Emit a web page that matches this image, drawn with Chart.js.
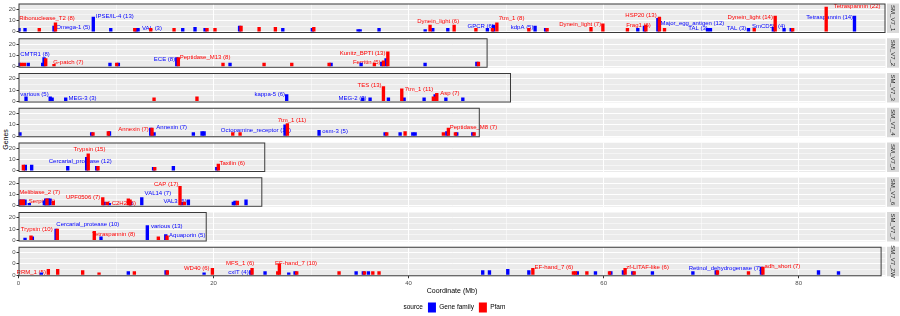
<!DOCTYPE html>
<html><head><meta charset="utf-8">
<script src="https://cdn.jsdelivr.net/npm/chart.js@4.4.0/dist/chart.umd.min.js"></script>
<style>
html,body{margin:0;padding:0;background:#fff;width:900px;height:316px;overflow:hidden;position:relative;font-family:"Liberation Sans",Arial,sans-serif;}
canvas{position:absolute;left:0;}
#ytitle{position:absolute;left:-10px;top:135px;width:30px;height:9px;line-height:9px;text-align:center;font-size:7px;transform:rotate(-90deg);color:#000;}
</style></head><body>
<div id="ytitle">Genes</div>
<script>
// ---------------- data ----------------
const chromosomes = ['SM_V7_1','SM_V7_2','SM_V7_3','SM_V7_4','SM_V7_5','SM_V7_6','SM_V7_7','SM_V7_ZW'];
const chromLengthMb = [88.9, 48.1, 50.5, 47.3, 25.3, 25.0, 19.3, 88.5];
const xMaxMb = 88.9;
const xTickLabels = [0, 20, 40, 60, 80];
const yTickLabels = [0, 10, 20];
const sourceNames = ['Gene family', 'Pfam'];
const legendTitle = 'source';

// Gene family hits: position (Mb) and number of genes, per chromosome
const geneFamilyPos = [
  [0.05,0.67,3.64,7.67,9.46,12.05,12.26,16.84,18.1,19.13,22.67,27.1,30.13,34.82,35.03,36.97,41.7,42.48,44.02,48.08,48.7,52.97,54.05,63.5,64.18,65.56,70.65,70.95,74.85,77.4,78.5,79.23,85.72],
  [0.05,1.0,2.48,2.62,9.38,10.24,16.23,21.69,32.05,35.13,37.25,37.69,41.69,47.0],
  [0.77,3.25,3.45,4.84,27.5,35.3,36.05,37.93,39.54,41.59,42.72,43.82,45.56],
  [0.15,7.5,9.33,13.56,13.9,17.93,18.82,19.03,27.33,30.82,37.59,39.13,40.43,40.67,43.92,44.94,46.58],
  [0.7,1.35,5.05,6.99,8.02,13.85,15.88,20.33],
  [0.08,0.36,0.67,1.11,2.65,2.79,3.06,3.23,8.77,9.31,11.5,12.64,16.74,17.42,22.03,22.2,23.33],
  [0.67,1.42,3.85,8.46,13.21,15.1],
  [2.34,11.26,15.13,19.03,23.82,25.28,27.71,28.36,34.62,35.36,35.88,47.6,48.29,50.17,52.33,57.3,59.16,60.74,62.03,62.99,65.0,69.15,71.54,76.18,82.03,84.08]
];
const geneFamilyGenes = [
  [3,3,5,13,3,3,3,3,4,3,5,3,3,2,2,3,2,3,3,3,6,5,3,3,5,12,3,3,3,4,3,3,14],
  [3,3,3,8,3,3,8,3,3,3,4,7,3,4],
  [4,4,3,3,6,3,3,3,3,3,6,3,3],
  [3,3,4,7,3,3,4,4,10,5,3,3,3,3,4,3,3],
  [5,5,4,12,4,3,4,3],
  [5,5,5,2,4,6,6,6,3,2,3,7,3,5,3,4,5],
  [2,3,10,3,13,5],
  [2,3,4,2,4,3,2,3,3,3,3,4,4,5,4,3,3,3,4,3,3,3,4,7,4,3]
];
// Pfam hits
const pfamPos = [
  [2.13,3.79,11.92,13.56,15.95,19.33,20.15,22.82,24.67,26.34,30.28,42.2,44.67,46.9,48.6,49.05,52.33,54.2,58.7,59.92,62.44,64.33,65.72,66.24,75.44,77.59,79.38,82.82],
  [0.3,0.6,2.79,3.64,10.07,16.39,20.97,25.18,28.02,31.85,36.49,37.42,37.87,47.16],
  [13.9,18.3,37.42,39.3,42.54,42.89],
  [7.64,9.21,13.69,21.97,22.72,27.57,37.76,39.64,43.57,44.08,44.8,46.72],
  [0.5,7.15,8.15,13.97,20.49],
  [0.22,0.5,2.92,3.57,8.64,9.11,11.26,11.44,16.56,17.0,22.44],
  [1.28,3.98,7.77,14.34,15.23],
  [3.06,4.02,6.58,8.26,11.88,15.26,19.88,23.95,26.58,26.75,28.53,32.87,35.47,36.33,36.97,52.74,56.9,57.1,58.28,60.6,62.2,63.13,71.67,74.85,76.33]
];
const pfamGenes = [
  [3,8,3,3,3,3,3,5,4,4,4,6,6,3,3,8,3,3,4,7,3,6,13,3,3,14,3,22],
  [3,3,7,2,3,8,3,3,3,3,3,5,13,4],
  [3,4,13,11,4,7],
  [3,4,7,3,3,11,3,4,3,7,3,3],
  [5,15,4,3,6],
  [5,5,6,4,7,3,6,5,17,3,4],
  [4,10,8,3,4],
  [5,5,4,2,3,4,6,6,3,10,3,3,3,3,3,6,3,3,3,3,6,3,4,3,7]
];
// labels: text, source (0 = Gene family, 1 = Pfam), anchor position (Mb) and height (genes)
const labelText = [
  ['Ribonuclease_T2 (8)','Omega-1 (5)','IPSE/IL-4 (13)','VAL (3)','Dynein_light (6)','GPCR (6)','7tm_1 (8)','kdpA (5)','Dynein_light (7)','HSP20 (13)','Frag1 (6)','Major_egg_antigen (12)','TAL (3)','TAL (3)','Dynein_light (14)','SmCD59 (4)','Tetraspannin (22)','Tetraspannin (14)'],
  ['CMTR1 (8)','G-patch (7)','ECE (8)','Peptidase_M13 (8)','Kunitz_BPTI (13)','Ferritin (5)'],
  ['various (5)','MEG-3 (3)','kappa-5 (6)','MEG-2 (3)','TES (13)','7tm_1 (11)','Asp (7)'],
  ['Annexin (7)','Annexin (7)','Octopamine_receptor (10)','7tm_1 (11)','osm-3 (5)','Peptidase_M8 (7)'],
  ['Trypsin (15)','Cercarial_protease (12)','Taxilin (6)'],
  ['Melibiase_2 (7)','Serpin (5)','UPF0506 (7)','zf-C2H2 (6)','CAP (17)','VAL14 (7)','VAL3 (5)'],
  ['Trypsin (10)','Cercarial_protease (10)','Tetraspannin (8)','various (13)','Aquaporin (5)'],
  ['RRM_1 (5)','WD40 (6)','MFS_1 (6)','cxIT (4)','EF-hand_7 (10)','EF-hand_7 (6)','zf-LITAF-like (6)','Retinol_dehydrogenase (7)','adh_short (7)']
];
const labelSource = [
  [1,0,0,0,1,0,1,0,1,1,1,0,0,0,1,0,1,0],
  [0,1,0,1,1,1],
  [0,0,0,0,1,1,1],
  [1,0,0,1,0,1],
  [1,0,1],
  [1,1,1,1,1,0,0],
  [1,0,1,0,0],
  [1,1,1,0,1,1,1,0,1]
];
const labelPos = [
  [2.92,5.62,9.87,13.69,43.03,47.4,50.56,51.64,57.59,63.83,63.57,69.1,69.67,73.62,75.03,76.92,85.99,83.18],
  [1.69,5.11,14.97,19.13,35.28,35.71],
  [1.64,6.56,25.76,34.26,36.0,41.06,44.23],
  [11.79,15.71,24.34,28.05,32.46,46.65],
  [7.28,6.33,21.92],
  [2.17,2.41,6.62,10.46,15.15,14.29,16.05],
  [1.87,7.11,9.76,15.2,17.3],
  [1.31,18.28,22.72,22.56,28.46,54.9,64.51,72.43,78.33]
];
const labelGenes = [
  [11.9,4,13.9,2.9,9.6,5.2,11.9,4,6.4,14.2,5.8,7.8,2.9,2.9,13,4.9,22.9,13.3],
  [11,4,6.4,8.1,11.6,3.8],
  [6.1,2.6,6.1,2.9,13.9,11,6.7],
  [5.8,7.5,5.2,13.9,3.8,7.5],
  [18.9,8.2,6.7],
  [11.6,3.8,7.5,2.3,18.6,11,3.5],
  [9.8,14.2,5.5,12.7,4],
  [2,6,10.3,2.6,10.6,6.8,6.8,6.3,7.7]
];

// ---------------- layout / style ----------------
const COLORS = ['#0000FF', '#FF0000'];
const PANEL_TOP0 = 3.5, PANEL_STEP = 34.75, PANEL_H = 29.5;
const PLOT_LEFT = 18.5, PLOT_RIGHT = 885.5, PAGE_H = 316;
const FONT = '"Liberation Sans", Arial, sans-serif';

const panelPlugin = {
  id: 'panelDeco',
  beforeDraw(chart, args, opts) {
    const {ctx, chartArea: a} = chart;
    ctx.save();
    ctx.fillStyle = '#EBEBEB';
    ctx.fillRect(a.left, a.top, a.right - a.left, a.bottom - a.top);
    ctx.restore();
  },
  beforeDatasetsDraw(chart, args, opts) {
    const {ctx} = chart;
    const xs = chart.scales.x, ys = chart.scales.y;
    ctx.save();
    ctx.font = '6px ' + FONT;
    ctx.textAlign = 'center';
    ctx.textBaseline = 'middle';
    opts.labels.forEach(l => {
      ctx.fillStyle = COLORS[l.src];
      ctx.fillText(l.text, xs.getPixelForValue(l.x), ys.getPixelForValue(l.y));
    });
    ctx.restore();
  },
  afterDatasetsDraw(chart, args, opts) {
    const {ctx, chartArea: a} = chart;
    const xs = chart.scales.x;
    const x0 = xs.getPixelForValue(0), x1 = xs.getPixelForValue(opts.length);
    ctx.save();
    ctx.strokeStyle = '#3A3A3A';
    ctx.lineWidth = 1;
    ctx.strokeRect(x0 + 0.5, a.top + 0.5, x1 - x0 - 1, a.bottom - a.top - 1);
    ctx.restore();
  },
  afterDraw(chart, args, opts) {
    const {ctx, chartArea: a} = chart;
    ctx.save();
    ctx.fillStyle = '#D9D9D9';
    ctx.fillRect(a.right + 1.5, a.top, 12, a.bottom - a.top);
    ctx.translate(a.right + 7.5, (a.top + a.bottom) / 2);
    ctx.rotate(Math.PI / 2);
    ctx.fillStyle = '#1A1A1A';
    ctx.font = '6px ' + FONT;
    ctx.textAlign = 'center';
    ctx.textBaseline = 'middle';
    ctx.fillText(opts.name, 0, 0);
    ctx.restore();
  }
};

for (let i = 0; i < chromosomes.length; i++) {
  const isLast = i === chromosomes.length - 1;
  const pTop = PANEL_TOP0 + i * PANEL_STEP;
  const pBot = pTop + PANEL_H;
  const cTop = Math.floor(pTop) - 1;
  const cH = isLast ? PAGE_H - cTop : Math.ceil(pBot) + 3 - cTop;
  const padTop = pTop - cTop;
  const X_AXIS_H = 21.25, LEGEND_H = 18.5;
  const padBottom = isLast ? 0 : (cTop + cH - pBot);
  const padLeft = isLast ? 12 : 0;

  const cv = document.createElement('canvas');
  cv.width = 900; cv.height = cH;
  cv.style.top = cTop + 'px';
  document.body.appendChild(cv);

  const gf = geneFamilyPos[i].map((x, k) => ({x, y: geneFamilyGenes[i][k]}));
  const pf = pfamPos[i].map((x, k) => ({x, y: pfamGenes[i][k]}));
  const labels = labelText[i].map((t, k) => ({text: t, src: labelSource[i][k], x: labelPos[i][k], y: labelGenes[i][k]}));

  new Chart(cv, {
    type: 'bar',
    data: {
      datasets: [
        {label: sourceNames[0], data: gf, backgroundColor: COLORS[0], borderWidth: 0, order: 1},
        {label: sourceNames[1], data: pf, backgroundColor: COLORS[1], borderWidth: 0, order: 0}
      ]
    },
    options: {
      responsive: false,
      animation: false,
      events: [],
      devicePixelRatio: 1,
      layout: {padding: {top: padTop, bottom: padBottom, left: padLeft, right: 900 - PLOT_RIGHT}},
      datasets: {bar: {barThickness: 2.7, grouped: false}},
      scales: {
        x: {
          type: 'linear', min: 0, max: xMaxMb, offset: false,
          afterBuildTicks: s => { s.ticks = [0,10,20,30,40,50,60,70,80].map(v => ({value: v})); },
          afterFit: s => { s.height = isLast ? X_AXIS_H : 0; s.paddingLeft = s.paddingRight = s.paddingTop = s.paddingBottom = 0; },
          border: {display: false},
          grid: {
            offset: false,
            color: '#FFFFFF',
            lineWidth: c => (c.tick && xTickLabels.includes(c.tick.value)) ? 1 : 0.5,
            drawTicks: isLast, tickLength: 2,
            tickColor: c => (c.tick && xTickLabels.includes(c.tick.value)) ? '#333333' : 'rgba(0,0,0,0)'
          },
          ticks: {
            display: isLast, padding: 1, maxRotation: 0, autoSkip: false,
            color: '#4D4D4D', font: {size: 6, family: FONT},
            callback: v => xTickLabels.includes(v) ? String(v) : ''
          },
          title: {display: isLast, text: 'Coordinate (Mb)', color: '#000', font: {size: 7, family: FONT}, padding: {top: 0, bottom: 2.3}}
        },
        y: {
          type: 'linear', min: -1.1, max: 25.2,
          afterBuildTicks: s => { s.ticks = [0,5,10,15,20,25].map(v => ({value: v})); },
          afterFit: s => { s.width = PLOT_LEFT - padLeft; s.paddingLeft = s.paddingRight = s.paddingTop = s.paddingBottom = 0; },
          border: {display: false},
          grid: {
            color: '#FFFFFF',
            lineWidth: c => (c.tick && yTickLabels.includes(c.tick.value)) ? 1 : 0.5,
            drawTicks: true, tickLength: 2,
            tickColor: c => (c.tick && yTickLabels.includes(c.tick.value)) ? '#333333' : 'rgba(0,0,0,0)'
          },
          ticks: {
            padding: 1, autoSkip: false,
            color: '#4D4D4D', font: {size: 6, family: FONT},
            callback: v => yTickLabels.includes(v) ? String(v) : ''
          }
        }
      },
      plugins: {
        legend: {
          display: isLast, position: 'bottom', maxHeight: LEGEND_H,
          labels: {
            boxWidth: 8, boxHeight: 10, padding: 5, color: '#000',
            font: {size: 6.5, family: FONT},
            generateLabels: chart => {
              const items = Chart.defaults.plugins.legend.labels.generateLabels(chart)
                .sort((a, b) => a.datasetIndex - b.datasetIndex);
              items.unshift({text: legendTitle, fillStyle: 'rgba(0,0,0,0)', strokeStyle: 'rgba(0,0,0,0)', lineWidth: 0, hidden: false, datasetIndex: -1, fontColor: '#000'});
              return items;
            }
          }
        },
        tooltip: {enabled: false},
        panelDeco: {name: chromosomes[i], length: chromLengthMb[i], labels}
      }
    },
    plugins: [panelPlugin]
  });
}
</script></body></html>
